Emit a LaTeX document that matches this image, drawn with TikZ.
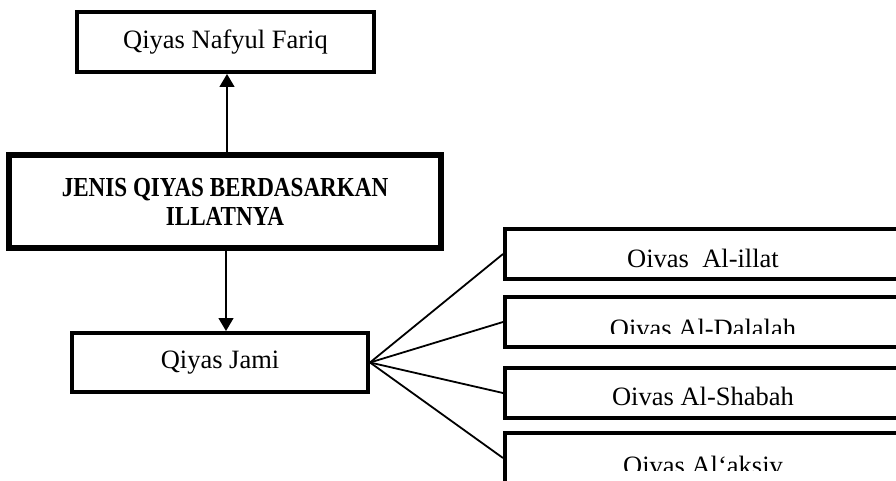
\documentclass[tikz,border=0pt]{standalone}
\usepackage{fontspec}
\setmainfont{Liberation Serif}
\newfontfamily\hurufjudul{Liberation Serif}[FakeStretch=0.84]
\usetikzlibrary{arrows.meta}

\tikzset{
    kotak/.style={draw, rectangle, line width=4pt, inner sep=0pt, align=center,
        font=\fontsize{26.5}{30}\selectfont},
    kotakutama/.style={kotak, line width=5.5pt,
        font=\hurufjudul\fontsize{27.5}{29}\selectfont\bfseries},
    panah/.style={line width=1.4pt, -{Triangle[width=15pt,length=13pt]}},
    garis/.style={line width=1.8pt},
    teks/.style={anchor=base, inner sep=0pt, font=\fontsize{26.5}{30}\selectfont}
}

\begin{document}
\begin{tikzpicture}[x=1pt, y=-1pt]
        % Batas gambar
        \clip (0,0) rectangle (896,481);

        % --- Kotak kiri ---
        \node[kotak, minimum width=297pt, minimum height=60pt] (nafyul) at (225.5,42) {Qiyas Nafyul Fariq};
        \node[kotakutama, minimum width=432pt, minimum height=93pt] (jenis) at (225,201.5)
            {JENIS QIYAS BERDASARKAN\\ILLATNYA};
        \node[kotak, minimum width=296pt, minimum height=59pt] (jami) at (220,362.5) {Qiyas Jami};

        % Panah
        \draw[panah] ([xshift=2pt]jenis.north) -- ([xshift=2pt]jenis.north |- nafyul.south);
        \draw[panah] ([xshift=1pt]jenis.south) -- ([xshift=1pt]jenis.south |- jami.north);

        % --- Kotak kanan ---
        \node[kotak, minimum width=395pt, minimum height=50pt] (illat) at (702.5,254) {};
        \node[kotak, minimum width=395pt, minimum height=50pt] (dalalah) at (702.5,322) {};
        \node[kotak, minimum width=395pt, minimum height=50pt] (shabah) at (702.5,393) {};
        \node[kotak, minimum width=395pt, minimum height=50pt] (aksiv) at (702.5,458) {};

        % Teks kotak kanan
        \node[teks] (tillat) at (703,267) {Oivas\ \ Al-illat};
        \begin{scope}
            \clip (505,297) rectangle (896,333);
            \node[teks] (tdalalah) at (703,337) {Oivas Al-Dalalah};
        \end{scope}
        \node[teks] (tshabah) at (703,405) {Oivas Al-Shabah};
        \begin{scope}
            \clip (505,435) rectangle (896,470);
            \node[teks] (taksiv) at (703,474) {Oivas Al‘aksiv};
        \end{scope}

        % Garis penghubung
        \draw[garis] (jami.east) -- (illat.west);
        \draw[garis] (jami.east) -- (dalalah.west);
        \draw[garis] (jami.east) -- (shabah.west);
        \draw[garis] (jami.east) -- (aksiv.west);
    \end{tikzpicture}
\end{document}
